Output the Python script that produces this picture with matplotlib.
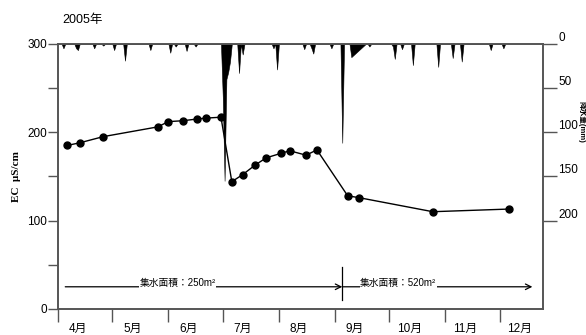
"""2005年 EC と降水量の推移."""

from datetime import date

import matplotlib

matplotlib.use("Agg")
import matplotlib.dates as mdates
import matplotlib.pyplot as plt

YEAR = 2005

# EC (μS/cm)
ec_days = [
    "04-06", "04-13", "04-26", "05-26", "06-01", "06-09", "06-17",
    "06-22", "06-30", "07-06", "07-12", "07-19", "07-25", "08-02",
    "08-07", "08-16", "08-22", "09-08", "09-14", "10-25", "12-06",
]
ec_values = [
    185, 188, 195, 206, 212, 213, 215,
    216, 217, 144, 152, 163, 171, 176,
    179, 174, 180, 128, 126, 110, 113,
]

# 降水量 (mm) -- 0 は図から読んだ無降水点
rain_days = [
    "04-03", "04-04", "04-05", "04-10", "04-11", "04-12", "04-13",
    "04-20", "04-21", "04-22", "04-25", "04-26", "04-27",
    "05-01", "05-02", "05-03", "05-07", "05-08", "05-09",
    "05-21", "05-22", "05-23",
    "06-01", "06-02", "06-03", "06-04", "06-05", "06-06",
    "06-10", "06-11", "06-12", "06-15", "06-16", "06-17",
    "06-30", "07-01", "07-02", "07-03", "07-04", "07-05", "07-06",
    "07-09", "07-10", "07-11", "07-12", "07-13",
    "07-28", "07-29", "07-30", "07-31", "08-01",
    "08-14", "08-15", "08-16", "08-18", "08-19", "08-20", "08-21",
    "08-29", "08-30", "08-31",
    "09-04", "09-05", "09-06", "09-09", "09-10", "09-18",
    "09-19", "09-20", "09-21",
    "10-02", "10-03", "10-04", "10-05", "10-07", "10-08", "10-09",
    "10-13", "10-14", "10-15", "10-27", "10-28", "10-29",
    "11-04", "11-05", "11-06", "11-09", "11-10", "11-11",
    "11-25", "11-26", "11-27", "12-02", "12-03", "12-04",
]
rain_mm = [
    0, 5, 0, 0, 5, 7, 0,
    0, 5, 0, 0, 2, 0,
    0, 7, 0, 0, 19, 0,
    0, 7, 0,
    0, 10, 0, 0, 3, 0,
    0, 8, 0, 0, 3, 0,
    0, 60, 155, 40, 32, 20, 0,
    0, 33, 0, 12, 0,
    0, 5, 0, 29, 0,
    0, 6, 0, 0, 5, 11, 0,
    0, 5, 0,
    0, 112, 0, 0, 15, 0,
    0, 3, 0,
    0, 3, 17, 0, 0, 6, 0,
    0, 24, 0, 0, 26, 0,
    0, 16, 0, 0, 20, 0,
    0, 7, 0, 0, 5, 0,
]

month_labels = ["4月", "5月", "6月", "7月", "8月", "9月", "10月", "11月", "12月"]

area_labels = ["集水面積：250m²", "集水面積：520m²"]
area_change = "09-05"

FONTS = ["Liberation Sans", "Noto Sans CJK JP", "DejaVu Sans"]
AXIS_COLOR = "#555555"


def to_date(text):
    month, day = text.split("-")
    return date(YEAR, int(month), int(day))


def main():
    plt.rcParams["font.family"] = FONTS

    fig = plt.figure(figsize=(5.86, 3.35), dpi=100)
    ax = fig.add_axes([0.099, 0.078, 0.828, 0.791])
    ax2 = ax.twinx()

    # 降水量 (上から下向き)
    rx = [to_date(d) for d in rain_days]
    ax2.fill_between(rx, 0, rain_mm, color="black", lw=0.4,
                     edgecolor="black")
    ax2.set_ylim(300, 0)
    ax2.set_yticks([0, 50, 100, 150, 200])
    ax2.tick_params(axis="y", direction="out", length=10, width=1,
                    color=AXIS_COLOR, pad=1, labelsize=8.5)
    for lbl in ax2.get_yticklabels():
        lbl.set_verticalalignment("bottom")

    # EC
    ex = [to_date(d) for d in ec_days]
    ax.plot(ex, ec_values, color="black", lw=1, marker="o",
            markersize=5, zorder=5)
    ax.set_ylim(0, 300)
    ax.set_yticks([0, 100, 200, 300])
    ax.set_yticks([50, 150, 250], minor=True)
    ax.tick_params(axis="y", which="both", direction="out", length=7,
                   width=1, color=AXIS_COLOR, labelsize=8.5, pad=1)
    ax.set_zorder(ax2.get_zorder() + 1)
    ax.patch.set_visible(False)

    start = date(YEAR, 4, 1)
    end = date(YEAR, 12, 25)
    ax.set_xlim(start, end)
    month_starts = [date(YEAR, m, 1) for m in range(4, 13)]
    label_days = [date(YEAR, m, 12) for m in range(4, 13)]
    ax.set_xticks(month_starts)
    ax.set_xticklabels([])
    ax.set_xticks(label_days, minor=True)
    ax.set_xticklabels(month_labels, minor=True)
    ax.tick_params(axis="x", which="major", direction="out", length=9.5,
                   width=1, color=AXIS_COLOR)
    ax.tick_params(axis="x", which="minor", length=0, labelsize=8.5,
                   pad=10)
    ax.xaxis.set_major_formatter(mdates.DateFormatter(""))

    for a in (ax, ax2):
        for side in a.spines.values():
            side.set_color(AXIS_COLOR)
            side.set_linewidth(1.2)

    ax.set_ylabel("EC  μS/cm", family="Liberation Serif",
                  fontweight="bold", fontsize=8, labelpad=4)
    fig.text(582 / 586, 1 - 122 / 335, "降水量(mm)", rotation=270,
             fontweight="bold", fontsize=5.5, ha="center", va="center")

    # 集水面積の矢印
    change = to_date(area_change)
    arrow_y = 25
    arrow = dict(arrowstyle="->", color="black", lw=0.9,
                 shrinkA=0, shrinkB=0)
    ax.annotate("", xy=(change, arrow_y), xytext=(date(YEAR, 4, 5), arrow_y),
                arrowprops=arrow)
    ax.annotate("", xy=(date(YEAR, 12, 19), arrow_y),
                xytext=(change, arrow_y), arrowprops=arrow)
    ax.plot([change, change], [10, 47], color="black", lw=0.9)
    box = dict(facecolor="white", edgecolor="none", pad=0.5)
    ax.text(date(YEAR, 6, 6), arrow_y - 1, area_labels[0], fontsize=7,
            ha="center", va="bottom", bbox=box)
    ax.text(date(YEAR, 10, 6), arrow_y - 1, area_labels[1], fontsize=7,
            ha="center", va="bottom", bbox=box)

    fig.text(62 / 586, 1 - 20 / 335, "2005年", fontsize=9, va="center")

    fig.savefig("out.png", dpi=100)
    plt.close(fig)


if __name__ == "__main__":
    main()
